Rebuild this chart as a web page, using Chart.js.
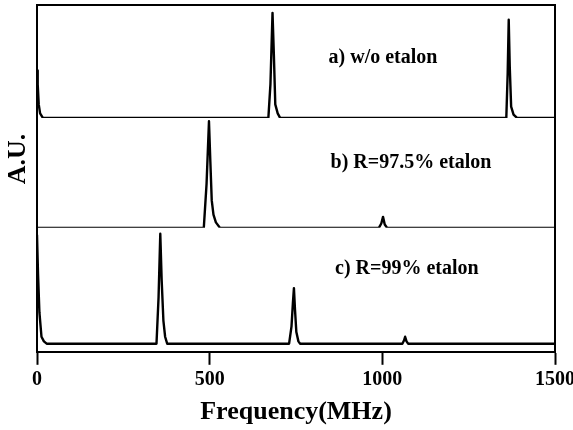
<!DOCTYPE html>
<html><head><meta charset="utf-8">
<script src="https://cdn.jsdelivr.net/npm/chart.js@4"></script>
<style>html,body{margin:0;padding:0;background:#fff}#wrap{width:573px;height:430px}</style>
</head><body><div id="wrap"><canvas id="c" width="573" height="430"></canvas></div>
<script>
// ---- data (frequency in MHz, signal in arbitrary units) ----
const xTickValues = [0, 500, 1000, 1500];
const panelNames = ['a) w/o etalon', 'b) R=97.5% etalon', 'c) R=99% etalon'];

const freqA = [0, 2, 5, 9, 17, 670, 676, 682, 686, 690, 697, 704, 1359, 1363, 1366, 1369, 1373, 1380, 1390, 1500];
const sigA  = [42, 30, 12, 4, 0, 0, 30, 93, 55, 12, 4, 0, 0, 40, 87, 45, 10, 3, 0, 0];

const freqB = [0, 483, 491, 498, 502, 506, 511, 518, 530, 990, 997, 1002, 1007, 1014, 1500];
const sigB  = [0, 0, 40, 97, 60, 25, 12, 5, 0, 0, 4, 10, 3, 0, 0];

const freqC = [0, 3, 7, 13, 20, 28, 346, 352, 357, 361, 366, 371, 377, 730, 737, 741, 744, 747, 751, 757, 762, 1058, 1063, 1066, 1070, 1075, 1500];
const sigC  = [94, 60, 27, 6, 2, 0, 0, 40, 95, 55, 20, 6, 0, 0, 15, 35, 48, 30, 10, 2, 0, 0, 3, 6, 2, 0, 0];

const toPts = (xs, ys) => xs.map((x, i) => ({x: x, y: ys[i]}));
const FONT = '"Liberation Serif", "Times New Roman", serif';

const framePlugin = {
  id: 'frame',
  afterDatasetsDraw(chart) {
    const {ctx, chartArea: a, scales} = chart;
    ctx.save();
    ctx.strokeStyle = '#000';
    ctx.lineWidth = 2;
    ctx.beginPath();
    ctx.moveTo(a.left, a.bottom);
    ctx.lineTo(a.left, a.top);
    ctx.lineTo(a.right, a.top);
    ctx.lineTo(a.right, a.bottom);
    ctx.stroke();
    // panel labels
    ctx.fillStyle = '#000';
    ctx.font = 'bold 20px ' + FONT;
    ctx.textAlign = 'center';
    ctx.textBaseline = 'middle';
    const anchors = [[1002, 53, 'ya'], [1083, 59, 'yb'], [1071, 65, 'yc']];
    anchors.forEach((p, i) => {
      ctx.fillText(panelNames[i], scales.x.getPixelForValue(p[0]), scales[p[2]].getPixelForValue(p[1]));
    });
    // y title
    ctx.font = 'bold 26px ' + FONT;
    ctx.translate(18, 159);
    ctx.rotate(-Math.PI / 2);
    ctx.fillText('A.U.', 0, 0);
    ctx.restore();
  }
};

const ds = (xs, ys, axis) => ({
  data: toPts(xs, ys), yAxisID: axis, borderColor: '#000', borderWidth: 2.4,
  pointRadius: 0, tension: 0, fill: false, borderJoinStyle: 'round'
});

new Chart(document.getElementById('c'), {
  type: 'line',
  data: { datasets: [ds(freqA, sigA, 'ya'), ds(freqB, sigB, 'yb'), ds(freqC, sigC, 'yc')] },
  options: {
    responsive: false, animation: false, devicePixelRatio: 1,
    layout: { padding: { left: 37, top: 5, right: 18, bottom: 0 } },
    plugins: { legend: { display: false }, tooltip: { enabled: false } },
    scales: {
      x: {
        type: 'linear', position: 'bottom', min: 0, max: 1500,
        afterBuildTicks: s => { s.ticks = xTickValues.map(v => ({value: v})); },
        afterFit: s => { s.paddingLeft = 0; s.paddingRight = 0; },
        ticks: { color: '#000', font: { family: FONT, size: 20, weight: 'bold' }, maxRotation: 0, padding: 3,
                 callback: v => String(v) },
        grid: { drawOnChartArea: false, tickLength: 13, tickWidth: 2, tickColor: '#000', color: '#000' },
        border: { display: true, color: '#000', width: 2 },
        title: { display: true, text: 'Frequency(MHz)', color: '#000', font: { family: FONT, size: 26, weight: 'bold' }, padding: { top: 2, bottom: 2 } }
      },
      yc: { type: 'linear', position: 'left', stack: 'p', stackWeight: 124, min: -7, max: 100, display: false },
      yb: { type: 'linear', position: 'left', stack: 'p', stackWeight: 110, min: 0, max: 100, display: false },
      ya: { type: 'linear', position: 'left', stack: 'p', stackWeight: 113, min: 0, max: 100, display: false }
    }
  },
  plugins: [framePlugin]
});
</script></body></html>
